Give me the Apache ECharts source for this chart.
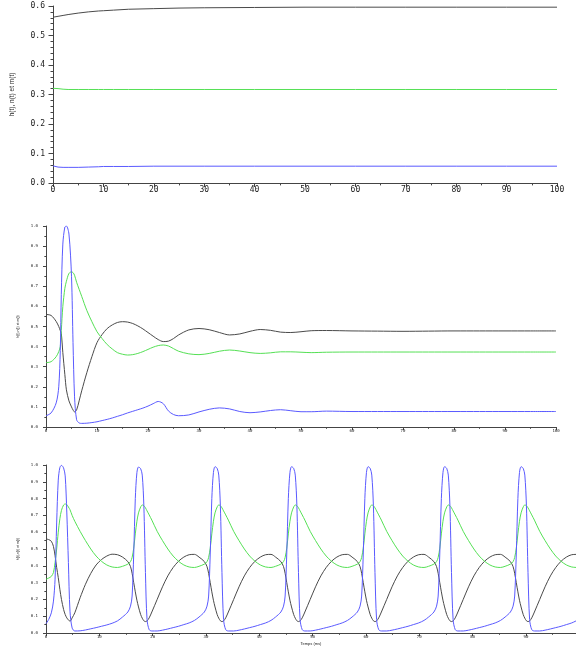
<!DOCTYPE html>
<html>
<head>
<meta charset="utf-8">
<script src="https://cdn.jsdelivr.net/npm/echarts@6/dist/echarts.min.js"></script>
<style>
html,body{margin:0;padding:0;background:#fff;}
#c{width:576px;height:648px;}
</style>
</head>
<body>
<div id="c"></div>
<script>
// ---------- Panel 1 (steady state, t in ms) ----------
const p1Time = [0, 1, 2, 3, 5, 7, 9, 10, 12, 15, 20, 25, 30, 40, 50, 60, 70, 80, 90, 100];
const p1H = [0.562, 0.565, 0.568, 0.571, 0.576, 0.580, 0.583, 0.584, 0.586, 0.589, 0.591, 0.593, 0.594, 0.595, 0.596, 0.596, 0.596, 0.596, 0.596, 0.596];
const p1N = [0.321, 0.320, 0.318, 0.317, 0.317, 0.317, 0.317, 0.317, 0.317, 0.317, 0.317, 0.317, 0.317, 0.317, 0.317, 0.317, 0.317, 0.317, 0.317, 0.317];
const p1M = [0.058, 0.054, 0.053, 0.053, 0.053, 0.054, 0.055, 0.056, 0.056, 0.056, 0.057, 0.057, 0.057, 0.057, 0.057, 0.057, 0.057, 0.057, 0.057, 0.057];

// ---------- Panel 2 (single spike, damped) ----------
const p2Time = [0, 1, 2, 2.5, 2.8, 3.0, 3.3, 3.7, 4.0, 4.5, 5.0, 5.3, 5.6, 6.0, 6.5, 7, 8, 9, 10, 11, 12, 13, 14, 15, 16, 17, 18, 19, 20, 21, 22, 23, 24, 25, 26, 28, 30, 32, 34, 36, 38, 40, 42, 44, 46, 48, 50, 52, 55, 60, 65, 70, 75, 80, 85, 90, 95, 100];
const p2M = [0.056, 0.07, 0.12, 0.2, 0.38, 0.66, 0.91, 0.995, 1.0, 0.96,
  0.75, 0.42, 0.15, 0.036, 0.02, 0.018, 0.019, 0.022, 0.026, 0.032,
  0.038, 0.045, 0.053, 0.061, 0.07, 0.078, 0.086, 0.094, 0.104, 0.116,
  0.127, 0.116, 0.08, 0.062, 0.056, 0.06, 0.075, 0.088, 0.095, 0.09,
  0.077, 0.071, 0.075, 0.082, 0.086, 0.081, 0.076, 0.076, 0.079, 0.077,
  0.077, 0.077, 0.077, 0.077, 0.077, 0.077, 0.077, 0.077];
const p2H = [0.56, 0.555, 0.525, 0.5, 0.48, 0.466, 0.37, 0.26, 0.185, 0.13,
  0.10, 0.085, 0.075, 0.085, 0.13, 0.18, 0.27, 0.35, 0.42, 0.46,
  0.49, 0.508, 0.52, 0.524, 0.522, 0.515, 0.503, 0.488, 0.47, 0.452,
  0.435, 0.425, 0.427, 0.44, 0.458, 0.483, 0.49, 0.484, 0.47, 0.458,
  0.463, 0.476, 0.485, 0.481, 0.472, 0.47, 0.474, 0.479, 0.48, 0.478,
  0.477, 0.476, 0.477, 0.478, 0.478, 0.478, 0.478, 0.478];
const p2N = [0.32, 0.325, 0.35, 0.375, 0.40, 0.48, 0.6, 0.69, 0.725, 0.764,
  0.772, 0.768, 0.755, 0.72, 0.685, 0.65, 0.58, 0.524, 0.474, 0.44,
  0.41, 0.388, 0.37, 0.362, 0.358, 0.36, 0.366, 0.375, 0.386, 0.397,
  0.405, 0.408, 0.403, 0.39, 0.377, 0.364, 0.36, 0.366, 0.377, 0.383,
  0.378, 0.37, 0.366, 0.369, 0.374, 0.374, 0.372, 0.37, 0.372, 0.373,
  0.373, 0.373, 0.373, 0.373, 0.373, 0.373, 0.373, 0.373];

// ---------- Panel 3 (repetitive firing) ----------
const p3Time = [
  0, 0.5, 1.0, 1.4, 1.7, 2.0, 2.3, 2.6, 2.9, 3.3, 3.6, 3.9, 4.2, 4.5, 4.9, 5.4, 6.4, 7.4, 8.4, 9.4, 10.4, 11.4, 12.4, 13.4,
  14.35, 15.35, 15.85, 16.15, 16.45, 16.75, 17.05, 17.35, 17.75, 18.05, 18.35, 18.65, 18.95, 19.35, 19.85, 20.85, 21.85, 22.85, 23.85, 24.85, 25.85, 26.85, 27.85,
  28.7, 29.7, 30.2, 30.5, 30.8, 31.1, 31.4, 31.7, 32.1, 32.4, 32.7, 33.0, 33.3, 33.7, 34.2, 35.2, 36.2, 37.2, 38.2, 39.2, 40.2, 41.2, 42.2,
  43.05, 44.05, 44.55, 44.85, 45.15, 45.45, 45.75, 46.05, 46.45, 46.75, 47.05, 47.35, 47.65, 48.05, 48.55, 49.55, 50.55, 51.55, 52.55, 53.55, 54.55, 55.55, 56.55,
  57.4, 58.4, 58.9, 59.2, 59.5, 59.8, 60.1, 60.4, 60.8, 61.1, 61.4, 61.7, 62.0, 62.4, 62.9, 63.9, 64.9, 65.9, 66.9, 67.9, 68.9, 69.9, 70.9,
  71.75, 72.75, 73.25, 73.55, 73.85, 74.15, 74.45, 74.75, 75.15, 75.45, 75.75, 76.05, 76.35, 76.75, 77.25, 78.25, 79.25, 80.25, 81.25, 82.25, 83.25, 84.25, 85.25,
  86.1, 87.1, 87.6, 87.9, 88.2, 88.5, 88.8, 89.1, 89.5, 89.8, 90.1, 90.4, 90.7, 91.1, 91.6, 92.6, 93.6, 94.6, 95.6, 96.6, 97.6, 98.6, 99.6
];
const p3M = [
  0.055, 0.08, 0.12, 0.19, 0.32, 0.655, 0.91, 0.985, 0.998, 0.982, 0.935, 0.72, 0.42, 0.13, 0.03, 0.012, 0.013, 0.018, 0.025, 0.032, 0.04, 0.048, 0.058, 0.072,
  0.095, 0.125, 0.16, 0.22, 0.47, 0.80, 0.955, 0.988, 0.978, 0.94, 0.76, 0.36, 0.08, 0.02, 0.012, 0.012, 0.017, 0.024, 0.032, 0.04, 0.05, 0.06, 0.075,
  0.095, 0.125, 0.16, 0.22, 0.47, 0.80, 0.955, 0.99, 0.98, 0.94, 0.76, 0.36, 0.08, 0.02, 0.012, 0.012, 0.017, 0.024, 0.032, 0.04, 0.05, 0.06, 0.075,
  0.095, 0.125, 0.16, 0.22, 0.47, 0.80, 0.955, 0.99, 0.98, 0.94, 0.76, 0.36, 0.08, 0.02, 0.012, 0.012, 0.017, 0.024, 0.032, 0.04, 0.05, 0.06, 0.075,
  0.095, 0.125, 0.16, 0.22, 0.47, 0.80, 0.955, 0.99, 0.98, 0.94, 0.76, 0.36, 0.08, 0.02, 0.012, 0.012, 0.017, 0.024, 0.032, 0.04, 0.05, 0.06, 0.075,
  0.095, 0.125, 0.16, 0.22, 0.47, 0.80, 0.955, 0.99, 0.98, 0.94, 0.76, 0.36, 0.08, 0.02, 0.012, 0.012, 0.017, 0.024, 0.032, 0.04, 0.05, 0.06, 0.075,
  0.095, 0.125, 0.16, 0.22, 0.47, 0.80, 0.955, 0.99, 0.98, 0.94, 0.76, 0.36, 0.08, 0.02, 0.012, 0.012, 0.017, 0.024, 0.032, 0.04, 0.05, 0.06, 0.075
];
const p3N = [
  0.32, 0.327, 0.337, 0.36, 0.42, 0.5, 0.6, 0.68, 0.73, 0.762, 0.768, 0.765, 0.75, 0.734, 0.70, 0.665, 0.605, 0.55, 0.5, 0.458, 0.427, 0.405, 0.393, 0.39,
  0.397, 0.41, 0.425, 0.45, 0.505, 0.59, 0.665, 0.715, 0.75, 0.762, 0.758, 0.745, 0.727, 0.703, 0.672, 0.605, 0.55, 0.5, 0.458, 0.427, 0.405, 0.393, 0.39,
  0.397, 0.41, 0.425, 0.45, 0.505, 0.59, 0.665, 0.715, 0.75, 0.762, 0.758, 0.745, 0.727, 0.703, 0.672, 0.605, 0.55, 0.5, 0.458, 0.427, 0.405, 0.393, 0.39,
  0.397, 0.41, 0.425, 0.45, 0.505, 0.59, 0.665, 0.715, 0.75, 0.762, 0.758, 0.745, 0.727, 0.703, 0.672, 0.605, 0.55, 0.5, 0.458, 0.427, 0.405, 0.393, 0.39,
  0.397, 0.41, 0.425, 0.45, 0.505, 0.59, 0.665, 0.715, 0.75, 0.762, 0.758, 0.745, 0.727, 0.703, 0.672, 0.605, 0.55, 0.5, 0.458, 0.427, 0.405, 0.393, 0.39,
  0.397, 0.41, 0.425, 0.45, 0.505, 0.59, 0.665, 0.715, 0.75, 0.762, 0.758, 0.745, 0.727, 0.703, 0.672, 0.605, 0.55, 0.5, 0.458, 0.427, 0.405, 0.393, 0.39,
  0.397, 0.41, 0.425, 0.45, 0.505, 0.59, 0.665, 0.715, 0.75, 0.762, 0.758, 0.745, 0.727, 0.703, 0.672, 0.605, 0.55, 0.5, 0.458, 0.427, 0.405, 0.393, 0.39
];
const p3H = [
  0.56, 0.556, 0.546, 0.515, 0.46, 0.39, 0.33, 0.26, 0.2, 0.14, 0.11, 0.09, 0.078, 0.07, 0.09, 0.12, 0.21, 0.29, 0.355, 0.405, 0.437, 0.458, 0.469, 0.466,
  0.452, 0.425, 0.395, 0.355, 0.30, 0.245, 0.195, 0.155, 0.11, 0.088, 0.073, 0.068, 0.072, 0.09, 0.125, 0.2, 0.275, 0.34, 0.39, 0.427, 0.452, 0.466, 0.468,
  0.452, 0.425, 0.395, 0.355, 0.30, 0.245, 0.195, 0.155, 0.11, 0.088, 0.073, 0.068, 0.072, 0.09, 0.125, 0.2, 0.275, 0.34, 0.39, 0.427, 0.452, 0.466, 0.468,
  0.452, 0.425, 0.395, 0.355, 0.30, 0.245, 0.195, 0.155, 0.11, 0.088, 0.073, 0.068, 0.072, 0.09, 0.125, 0.2, 0.275, 0.34, 0.39, 0.427, 0.452, 0.466, 0.468,
  0.452, 0.425, 0.395, 0.355, 0.30, 0.245, 0.195, 0.155, 0.11, 0.088, 0.073, 0.068, 0.072, 0.09, 0.125, 0.2, 0.275, 0.34, 0.39, 0.427, 0.452, 0.466, 0.468,
  0.452, 0.425, 0.395, 0.355, 0.30, 0.245, 0.195, 0.155, 0.11, 0.088, 0.073, 0.068, 0.072, 0.09, 0.125, 0.2, 0.275, 0.34, 0.39, 0.427, 0.452, 0.466, 0.468,
  0.452, 0.425, 0.395, 0.355, 0.30, 0.245, 0.195, 0.155, 0.11, 0.088, 0.073, 0.068, 0.072, 0.09, 0.125, 0.2, 0.275, 0.34, 0.39, 0.427, 0.452, 0.466, 0.468
];

const yTitle1 = 'h(t), n(t) et m(t)';
const yTitle2 = 'h(t),n(t) et m(t)';
const xTitle3 = 'Temps (ms)';

const COL_H = '#4a4a4a', COL_N = '#55e055', COL_M = '#5a5aff';
const AX = '#444';

function zip(t, v) { return t.map((x, i) => [x, v[i]]); }

function xAx(gi, max, fs, margin, tickLen, extra) {
  return Object.assign({
    type: 'value', gridIndex: gi, min: 0, max: max, interval: 10,
    axisLine: { onZero: false, lineStyle: { color: AX, width: 1 } },
    axisTick: { show: true, length: tickLen, lineStyle: { color: AX } },
    minorTick: { show: true, splitNumber: 2, length: tickLen * 0.6, lineStyle: { color: AX } },
    splitLine: { show: false },
    axisLabel: { fontSize: fs, fontFamily: 'DejaVu Sans Mono', color: '#222', margin: margin, showMaxLabel: max % 10 === 0 }
  }, extra || {});
}
function yAx(gi, max, split, fs, margin, tickLen, name, nameFs, nameGap) {
  return {
    type: 'value', gridIndex: gi, min: 0, max: max, interval: 0.1,
    name: name, nameLocation: 'middle', nameGap: nameGap, nameRotate: 90,
    nameTextStyle: { fontSize: nameFs, fontFamily: 'Liberation Sans', color: '#222' },
    axisLine: { show: true, lineStyle: { color: AX, width: 1 } },
    axisTick: { show: true, length: tickLen, lineStyle: { color: AX } },
    minorTick: { show: true, splitNumber: split, length: tickLen * 0.55, lineStyle: { color: AX } },
    splitLine: { show: false },
    axisLabel: { fontSize: fs, fontFamily: 'DejaVu Sans Mono', color: '#222', margin: margin, formatter: v => v.toFixed(1) }
  };
}
function line(name, xi, data, color, smooth) {
  return {
    name: name, type: 'line', xAxisIndex: xi, yAxisIndex: xi, data: data,
    showSymbol: false, smooth: smooth,
    lineStyle: { color: color, width: 1 }, itemStyle: { color: color }
  };
}

const chart = echarts.init(document.getElementById('c'), null, { renderer: 'canvas' });
chart.setOption({
  animation: false,
  backgroundColor: '#ffffff',
  grid: [
    { left: 53, top: 6, width: 504, height: 177 },
    { left: 46, top: 226, width: 510, height: 201 },
    { left: 46, top: 465, width: 530, height: 168 }
  ],
  xAxis: [
    xAx(0, 100, 8, 3, 4),
    xAx(1, 100, 4, 2, 3),
    xAx(2, 99.4, 4, 2, 3, { name: xTitle3, nameLocation: 'middle', nameGap: 9,
      nameTextStyle: { fontSize: 4, fontFamily: 'Liberation Sans', color: '#222' } })
  ],
  yAxis: [
    yAx(0, 0.6, 5, 8, 8, 4.5, yTitle1, 6.5, 37),
    yAx(1, 1.0, 2, 4, 8, 3, yTitle2, 3.5, 15),
    yAx(2, 1.0, 2, 4, 8, 3, yTitle2, 3.5, 15)
  ],
  series: [
    line('h', 0, zip(p1Time, p1H), COL_H, false),
    line('n', 0, zip(p1Time, p1N), COL_N, false),
    line('m', 0, zip(p1Time, p1M), COL_M, false),
    line('h', 1, zip(p2Time, p2H), COL_H, 0.3),
    line('n', 1, zip(p2Time, p2N), COL_N, 0.3),
    line('m', 1, zip(p2Time, p2M), COL_M, 0.3),
    line('h', 2, zip(p3Time, p3H), COL_H, 0.3),
    line('n', 2, zip(p3Time, p3N), COL_N, 0.3),
    line('m', 2, zip(p3Time, p3M), COL_M, 0.3)
  ]
});
</script>
</body>
</html>
